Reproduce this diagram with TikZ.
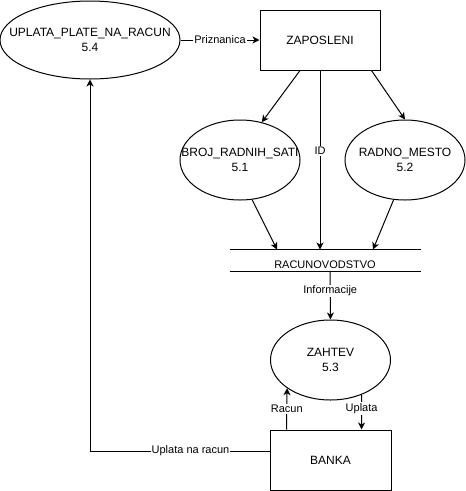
\documentclass[tikz,border=0pt]{standalone}
\usepackage{fontspec}
\setmainfont{Liberation Sans}
\usepackage{tikz}
\usetikzlibrary{arrows.meta}
\usetikzlibrary{shapes.geometric}
\tikzset{
    tnode/.style = {align=center, inner sep=0pt, text centered, font=\fontsize{12}{14.5}\selectfont},
    proc/.style = {tnode, ellipse, draw=black, minimum width=120pt, minimum height=80pt},
    ent/.style = {tnode, rectangle, draw=black, minimum width=120pt, minimum height=60pt},
    store/.style = {tnode, rectangle, minimum width=190pt, minimum height=21pt, font=\fontsize{11}{13}\selectfont},
    flow/.style = {font=\fontsize{11}{13}\selectfont, fill=white, inner sep=1pt}
}
\newcommand{\ptxt}[2]{\makebox[0pt]{#1}\\\makebox[0pt]{#2}}

\begin{document}
\begin{tikzpicture}[x=1pt, y=-1pt, line width=1pt, >={Stealth[length=7pt, width=7pt, inset=2pt]}]
    \useasboundingbox (0,0) rectangle (466,491);
    \node [proc, minimum width=180pt, minimum height=78pt] (uplata) at (90,40) {\ptxt{UPLATA\_PLATE\_NA\_RACUN}{5.4}};
    \node [ent] (zaposleni) at (320,40) {ZAPOSLENI};
    \node [proc] (broj) at (240,160) {\ptxt{BROJ\_RADNIH\_SATI}{5.1}};
    \node [proc] (radno) at (405,160) {\ptxt{RADNO\_MESTO}{5.2}};
    \node [store] (racunovodstvo) at (325,260.5) {};
    \node [store] (store_txt) at (325,265) {RACUNOVODSTVO};
    \node [proc] (zahtev) at (330.5,360) {\ptxt{ZAHTEV}{5.3}};
    \node [ent, minimum width=121pt] (banka) at (330.5,460) {BANKA};

    % data store
    \draw (racunovodstvo.north west) -- (racunovodstvo.north east);
    \draw (racunovodstvo.south west) -- (racunovodstvo.south east);

    % flows
    \draw [->] (uplata.east) -- node [flow] {Priznanica} (zaposleni.west);
    \draw [->] ([xshift=-20pt]zaposleni.south) -- (broj.60);
    \draw [->] ([xshift=-9pt]zaposleni.south east) -- (radno.north);
    \draw [->] (zaposleni.south) -- node [flow, pos=0.45] {ID} ([xshift=-5pt]racunovodstvo.north);
    \draw [->] (broj.-73) -- ([xshift=-48pt]racunovodstvo.north);
    \draw [->] (radno.-106) -- ([xshift=48pt]racunovodstvo.north);
    \draw [->] ([xshift=5pt]racunovodstvo.south) -- node [flow, pos=0.4] {Informacije} (zahtev.north);
    \draw [->] ([xshift=17pt]banka.north west) -- node [flow] {Racun} (zahtev.-147);
    \draw [->] (zahtev.-48) -- node [flow, pos=0.4] {Uplata} ([xshift=-30pt]banka.north east);
    \draw [->] ([yshift=9pt]banka.west) -| node [flow, pos=0.22] {Uplata na racun} (uplata.south);
\end{tikzpicture}
\end{document}
